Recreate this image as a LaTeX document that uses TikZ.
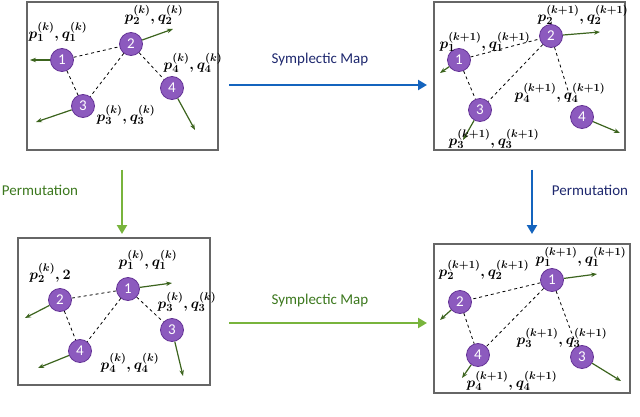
\documentclass[tikz,border=0pt]{standalone}
\usepackage{fontspec}
\setsansfont{Carlito}
\usetikzlibrary{arrows.meta}
\definecolor{pur}{RGB}{140,90,190}
\definecolor{purd}{RGB}{100,50,150}
\definecolor{arr}{RGB}{60,100,30}
\definecolor{blu}{RGB}{20,100,190}
\definecolor{grn}{RGB}{120,180,60}
\definecolor{grnt}{RGB}{60,120,30}
\definecolor{navy}{RGB}{30,40,110}
\tikzset{
 part/.style={circle,fill=pur,draw=purd,thick,minimum size=23pt,inner sep=0,text=white,font=\sffamily\fontsize{15}{15}\selectfont},
 vel/.style={draw=arr,line width=1.2pt,-{Stealth[length=6pt]}},
 lnk/.style={dashed,line width=0.8pt},
 panel/.style={draw=gray!80!black,line width=1.2pt},
 big/.style={line width=2.5pt,-{Triangle[length=9pt,width=10pt]}},
 lab/.style={font=\fontsize{15}{15}\selectfont\boldmath,inner sep=0},
 ttl/.style={font=\sffamily\fontsize{15}{15}\selectfont}
}
\begin{document}
\begin{tikzpicture}[x=1pt,y=-1pt]
\useasboundingbox (0,0) rectangle (640,417);
% TL
\draw[panel] (27,2) rectangle (218,150);
\node[part] (a1) at (62,60) {1};
\node[part] (a2) at (131,44) {2};
\node[part] (a3) at (83,106) {3};
\node[part] (a4) at (172,88) {4};
\draw[lnk] (a1)--(a2) (a1)--(a3) (a2)--(a3) (a2)--(a4);
\coordinate (av1) at (30,60); \coordinate (av2) at (173,29);
\coordinate (av3) at (36,122); \coordinate (av4) at (195,130);
\draw[vel] (a1)--(av1); \draw[vel] (a2)--(av2); \draw[vel] (a3)--(av3); \draw[vel] (a4)--(av4);
\node[lab] (al1) at (58,32) {$p_1^{(k)},q_1^{(k)}$};
\node[lab] (al2) at (154,15) {$p_2^{(k)},q_2^{(k)}$};
\node[lab] (al4) at (193,63) {$p_4^{(k)},q_4^{(k)}$};
\node[lab] (al3) at (126,115) {$p_3^{(k)},q_3^{(k)}$};
% TR
\draw[panel] (434,2) rectangle (625,150);
\node[part] (b1) at (459,60) {1};
\node[part] (b2) at (551,36) {2};
\node[part] (b3) at (480,110) {3};
\node[part] (b4) at (582,117) {4};
\draw[lnk] (b1)--(b2) (b1)--(b3) (b2)--(b3) (b2)--(570,97);
\coordinate (bv1) at (440,73); \coordinate (bv2) at (600,32);
\coordinate (bv3) at (463,140); \coordinate (bv4) at (620,133);
\draw[vel] (b1)--(bv1); \draw[vel] (b2)--(bv2); \draw[vel] (b3)--(bv3); \draw[vel] (b4)--(bv4);
\node[lab] (bl1) at (485,42) {$p_1^{(k+1)},q_1^{(k+1)}$};
\node[lab] (bl2) at (583,15) {$p_2^{(k+1)},q_2^{(k+1)}$};
\node[lab] (bl4) at (560,93) {$p_4^{(k+1)},q_4^{(k+1)}$};
\node[lab] (bl3) at (494,139) {$p_3^{(k+1)},q_3^{(k+1)}$};
% BL
\draw[panel] (18,238) rectangle (210,385);
\node[part] (c1) at (128,289) {1};
\node[part] (c2) at (60,300) {2};
\node[part] (c3) at (172,330) {3};
\node[part] (c4) at (80,351) {4};
\draw[lnk] (c1)--(c2) (c1)--(c3) (c1)--(c4) (c2)--(c4);
\coordinate (cv1) at (172,283); \coordinate (cv2) at (25,318);
\coordinate (cv3) at (183,376); \coordinate (cv4) at (38,368);
\draw[vel] (c1)--(cv1); \draw[vel] (c2)--(cv2); \draw[vel] (c3)--(cv3); \draw[vel] (c4)--(cv4);
\node[lab] (cl1) at (148,260) {$p_1^{(k)},q_1^{(k)}$};
\node[lab] (cl2) at (50,273) {$p_2^{(k)},2$};
\node[lab] (cl3) at (187,302) {$p_3^{(k)},q_3^{(k)}$};
\node[lab] (cl4) at (130,363) {$p_4^{(k)},q_4^{(k)}$};
% BR
\draw[panel] (434,244) rectangle (630,393);
\node[part] (d1) at (552,280) {1};
\node[part] (d2) at (460,302) {2};
\node[part] (d3) at (582,357) {3};
\node[part] (d4) at (478,355) {4};
\draw[lnk] (d1)--(d2) (d1)--(d4) (d2)--(d4) (d1)--(575,342);
\coordinate (dv1) at (597,274); \coordinate (dv2) at (440,320);
\coordinate (dv3) at (621,381); \coordinate (dv4) at (462,378);
\draw[vel] (d1)--(dv1); \draw[vel] (d2)--(dv2); \draw[vel] (d3)--(dv3); \draw[vel] (d4)--(dv4);
\node[lab] (dl1) at (581,257) {$p_1^{(k+1)},q_1^{(k+1)}$};
\node[lab] (dl2) at (484,270) {$p_2^{(k+1)},q_2^{(k+1)}$};
\node[lab] (dl3) at (562,338) {$p_3^{(k+1)},q_3^{(k+1)}$};
\node[lab] (dl4) at (512,381) {$p_4^{(k+1)},q_4^{(k+1)}$};
% big arrows
\coordinate (h1a) at (229,85); \coordinate (h1b) at (427,85);
\draw[big,draw=blu,fill=blu] (h1a)--(h1b);
\node[ttl,text=navy] (t1) at (320,60) {Symplectic Map};
\coordinate (v1a) at (122,170); \coordinate (v1b) at (122,234);
\draw[big,draw=grn,fill=grn] (v1a)--(v1b);
\node[ttl,text=grnt] (t2) at (40,190) {Permutation};
\coordinate (v2a) at (532,170); \coordinate (v2b) at (532,234);
\draw[big,draw=blu,fill=blu] (v2a)--(v2b);
\node[ttl,text=navy] (t3) at (590,190) {Permutation};
\coordinate (h2a) at (229,323); \coordinate (h2b) at (427,323);
\draw[big,draw=grn,fill=grn] (h2a)--(h2b);
\node[ttl,text=grnt] (t4) at (320,300) {Symplectic Map};
\end{tikzpicture}
\end{document}
